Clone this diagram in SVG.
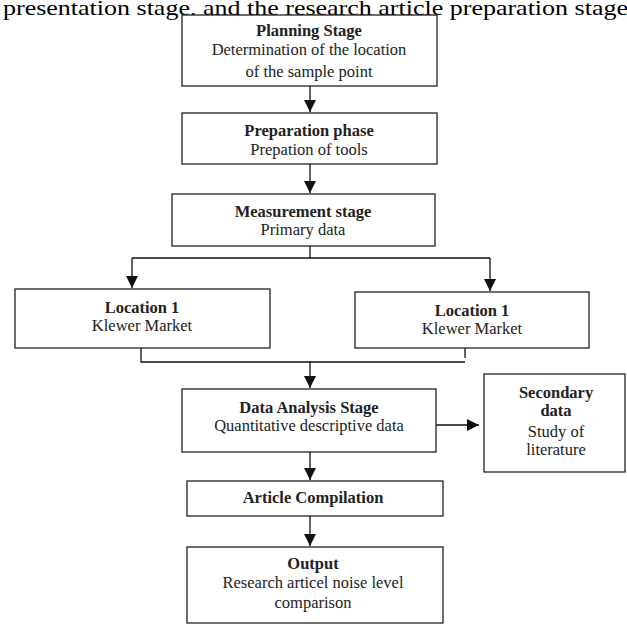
<svg xmlns="http://www.w3.org/2000/svg" width="627" height="624" viewBox="0 0 627 624">
<style>
.box{fill:#fff;stroke:#222;stroke-width:1.3}
.ln{fill:none;stroke:#111;stroke-width:1.3}
text{font-family:"Liberation Serif","Times New Roman",serif;font-size:16.5px;fill:#222;text-anchor:middle}
.b{font-weight:bold}
.top{font-size:22px;text-anchor:start;fill:#000}
</style>
<defs>
<marker id="ah" viewBox="0 0 12 12" refX="12" refY="6" markerWidth="13" markerHeight="12" markerUnits="userSpaceOnUse" orient="auto">
<path d="M0,0 L12,6 L0,12 Z" fill="#111"/>
</marker>
</defs>
<rect width="627" height="624" fill="#fff"/>
<text class="top" x="3" y="15" textLength="625" lengthAdjust="spacingAndGlyphs">presentation stage, and the research article preparation stage</text>

<g id="connectors">
<line class="ln" x1="310" y1="86" x2="310" y2="112" marker-end="url(#ah)"/>
<line class="ln" x1="310" y1="164" x2="310" y2="193" marker-end="url(#ah)"/>
<polyline class="ln" points="310,246 310,258"/>
<polyline class="ln" points="132,258 490,258"/>
<line class="ln" x1="132" y1="258" x2="132" y2="288" marker-end="url(#ah)"/>
<line class="ln" x1="490" y1="258" x2="490" y2="291" marker-end="url(#ah)"/>
<polyline class="ln" points="141,348 141,362 465,362"/>
<line class="ln" x1="465" y1="345" x2="465" y2="358"/>
<line class="ln" x1="310" y1="362" x2="310" y2="388" marker-end="url(#ah)"/>
<line class="ln" x1="436" y1="425" x2="479" y2="425" marker-end="url(#ah)"/>
<line class="ln" x1="310" y1="452" x2="310" y2="480" marker-end="url(#ah)"/>
<line class="ln" x1="310" y1="516" x2="310" y2="546" marker-end="url(#ah)"/>
</g>

<g id="planning">
<rect class="box" x="182" y="15" width="255" height="71"/>
<text class="b" x="309" y="36">Planning Stage</text>
<text x="309" y="55">Determination of the location</text>
<text x="309" y="77">of the sample point</text>
</g>
<g id="preparation">
<rect class="box" x="182" y="113" width="255" height="51"/>
<text class="b" x="309" y="136">Preparation phase</text>
<text x="309" y="155">Prepation  of tools</text>
</g>
<g id="measurement">
<rect class="box" x="172" y="194" width="263" height="52"/>
<text class="b" x="303" y="217">Measurement stage</text>
<text x="303" y="235">Primary data</text>
</g>
<g id="location1a">
<rect class="box" x="15" y="289" width="255" height="59"/>
<text class="b" x="142" y="313">Location 1</text>
<text x="142" y="331">Klewer Market</text>
</g>
<g id="location1b">
<rect class="box" x="355" y="292" width="234" height="56"/>
<text class="b" x="472" y="316">Location 1</text>
<text x="472" y="334">Klewer Market</text>
</g>
<g id="analysis">
<rect class="box" x="182" y="389" width="254" height="63"/>
<text class="b" x="309" y="413">Data Analysis Stage</text>
<text x="309" y="431">Quantitative descriptive data</text>
</g>
<g id="secondary">
<rect class="box" x="484" y="374" width="141" height="98"/>
<text class="b" x="556" y="398">Secondary</text>
<text class="b" x="556" y="416">data</text>
<text x="556" y="437">Study of</text>
<text x="556" y="455">literature</text>
</g>
<g id="compilation">
<rect class="box" x="187" y="481" width="256" height="35"/>
<text class="b" x="313" y="503">Article Compilation</text>
</g>
<g id="output">
<rect class="box" x="187" y="547" width="256" height="76"/>
<text class="b" x="313" y="569">Output</text>
<text x="313" y="588">Research articel noise level</text>
<text x="313" y="608">comparison</text>
</g>
</svg>
